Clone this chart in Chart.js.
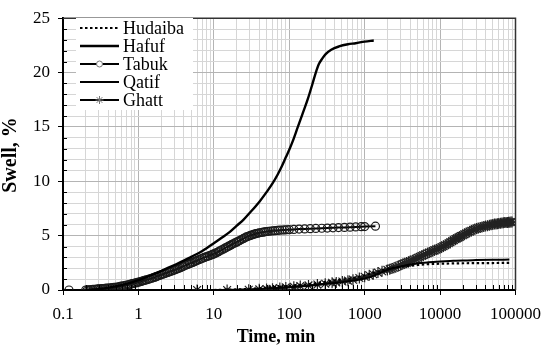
<!DOCTYPE html>
<html>
<head>
<meta charset="utf-8">
<script src="https://cdn.jsdelivr.net/npm/chart.js@4.4.1/dist/chart.umd.min.js"></script>
<style>
  html, body { margin: 0; padding: 0; background: #fff; }
  #wrap { width: 550px; height: 349px; position: relative; }
</style>
</head>
<body>
<div id="wrap"><canvas id="cnv"></canvas></div>
<script>
// ---- data (time in min, swell in %) ----
const seriesNames = ['Hudaiba', 'Hafuf', 'Tabuk', 'Qatif', 'Ghatt'];

const hudaibaTime  = [10, 20, 30, 60, 100, 200, 340, 500, 700, 1000, 1500, 2000, 3000, 5000, 7000, 10000, 20000, 50000, 83000];
const hudaibaSwell = [0, 0.05, 0.1, 0.25, 0.38, 0.58, 0.8, 0.95, 1.1, 1.35, 1.7, 1.95, 2.15, 2.3, 2.38, 2.42, 2.46, 2.48, 2.5];

const hafufTime  = [0.2, 0.25, 0.3, 0.36, 0.45, 0.6, 0.8, 1, 1.3, 1.6, 2, 2.5, 3, 4, 5, 6.5, 8, 10, 13, 16, 20, 25, 30, 40, 50, 60, 70, 80, 90, 100, 110, 130, 150, 175, 203, 225, 248, 275, 304, 360, 456, 600, 760, 1000, 1320];
const hafufSwell = [0, 0.03, 0.08, 0.15, 0.28, 0.45, 0.68, 0.9, 1.2, 1.45, 1.75, 2.05, 2.3, 2.7, 3.05, 3.45, 3.85, 4.3, 4.85, 5.3, 5.9, 6.5, 7.1, 8.1, 9.0, 9.8, 10.6, 11.4, 12.2, 12.9, 13.6, 15.0, 16.2, 17.5, 18.95, 20.0, 20.8, 21.3, 21.7, 22.1, 22.4, 22.6, 22.7, 22.85, 22.95];

const tabukTime  = [0.12, 0.2, 0.21, 0.22, 0.235, 0.25, 0.265, 0.28, 0.29, 0.3, 0.315, 0.33, 0.345, 0.36, 0.38, 0.4, 0.425, 0.45, 0.475, 0.5, 0.525, 0.55, 0.575, 0.6, 0.635, 0.67, 0.71, 0.75, 0.79, 0.83, 0.875, 0.92, 0.96, 1, 1.05, 1.1, 1.15, 1.2, 1.27, 1.35, 1.42, 1.5, 1.57, 1.65, 1.72, 1.8, 1.9, 2, 2.1, 2.2, 2.32, 2.45, 2.57, 2.7, 2.85, 3, 3.15, 3.3, 3.47, 3.65, 3.82, 4, 4.25, 4.5, 4.75, 5, 5.25, 5.5, 5.75, 6, 6.35, 6.7, 7.1, 7.5, 7.9, 8.3, 8.75, 9.2, 9.6, 10, 10.5, 11, 11.5, 12, 12.7, 13.5, 14.2, 15, 15.7, 16.5, 17.2, 18, 19, 20, 21, 22, 23.2, 24.5, 25.7, 27, 28.5, 30, 31.5, 33, 34.5, 36, 38, 40, 42.5, 45, 47.5, 50, 53, 57, 61, 65, 70, 75, 81, 87, 93, 100, 115, 135, 160, 190, 225, 270, 320, 380, 450, 540, 640, 760, 900, 1000, 1390];
const tabukSwell = [0, 0, 0.01, 0.02, 0.035, 0.05, 0.065, 0.08, 0.09, 0.1, 0.11, 0.12, 0.135, 0.15, 0.165, 0.18, 0.2, 0.22, 0.235, 0.25, 0.275, 0.3, 0.325, 0.35, 0.385, 0.42, 0.46, 0.5, 0.54, 0.58, 0.615, 0.65, 0.685, 0.72, 0.76, 0.8, 0.84, 0.88, 0.93, 0.98, 1.03, 1.08, 1.13, 1.18, 1.23, 1.28, 1.34, 1.4, 1.45, 1.5, 1.56, 1.62, 1.67, 1.72, 1.78, 1.84, 1.9, 1.95, 2.01, 2.07, 2.14, 2.2, 2.28, 2.35, 2.42, 2.48, 2.54, 2.6, 2.66, 2.72, 2.79, 2.86, 2.93, 3.0, 3.05, 3.1, 3.16, 3.22, 3.27, 3.32, 3.39, 3.45, 3.52, 3.6, 3.69, 3.78, 3.87, 3.95, 4.03, 4.1, 4.18, 4.25, 4.33, 4.4, 4.48, 4.55, 4.64, 4.72, 4.8, 4.88, 4.94, 5.0, 5.05, 5.1, 5.14, 5.18, 5.22, 5.26, 5.29, 5.32, 5.35, 5.38, 5.4, 5.42, 5.44, 5.46, 5.48, 5.5, 5.52, 5.53, 5.54, 5.55, 5.57, 5.6, 5.62, 5.64, 5.66, 5.68, 5.7, 5.72, 5.74, 5.76, 5.78, 5.8, 5.82, 5.83, 5.87];

const qatifTime  = [10, 20, 30, 60, 100, 200, 340, 500, 700, 1000, 1300, 1700, 2200, 3200, 5000, 7000, 10000, 15000, 20000, 30000, 50000, 83000];
const qatifSwell = [0, 0.03, 0.05, 0.15, 0.25, 0.42, 0.6, 0.72, 0.88, 1.05, 1.3, 1.65, 1.95, 2.2, 2.45, 2.55, 2.62, 2.68, 2.72, 2.75, 2.78, 2.8];

const ghattTime  = [6, 15, 29, 40, 50, 60, 75, 90, 115, 140, 180, 236, 300, 370, 420, 506, 600, 700, 850, 1000, 1150, 1300, 1500, 1700, 2000, 2150, 2300, 2450, 2600, 2800, 3000, 3200, 3400, 3600, 3800, 4000, 4270, 4500, 4800, 5100, 5400, 5700, 6000, 6400, 6800, 7200, 7600, 8000, 8400, 8900, 9400, 9950, 10500, 11100, 11700, 12300, 13000, 13700, 14500, 15200, 16000, 16700, 17500, 18200, 19000, 20000, 21000, 22200, 23500, 24700, 26000, 27500, 29000, 30500, 32000, 34000, 36000, 38000, 40000, 42500, 45000, 47500, 50000, 52500, 55000, 57500, 60000, 63000, 66000, 69000, 72000, 75000, 78000, 81000, 84000, 87000, 90000];
const ghattSwell = [0, 0, 0.02, 0.06, 0.09, 0.12, 0.18, 0.24, 0.3, 0.36, 0.42, 0.5, 0.58, 0.66, 0.7, 0.78, 0.86, 0.95, 1.1, 1.22, 1.35, 1.45, 1.6, 1.72, 1.85, 1.92, 1.98, 2.05, 2.12, 2.21, 2.3, 2.38, 2.45, 2.52, 2.58, 2.64, 2.72, 2.8, 2.88, 2.97, 3.05, 3.13, 3.2, 3.29, 3.38, 3.45, 3.52, 3.59, 3.65, 3.72, 3.78, 3.86, 3.95, 4.03, 4.12, 4.2, 4.3, 4.4, 4.5, 4.59, 4.68, 4.75, 4.82, 4.89, 4.96, 5.04, 5.12, 5.21, 5.3, 5.38, 5.45, 5.53, 5.6, 5.65, 5.7, 5.75, 5.8, 5.84, 5.88, 5.92, 5.96, 6.0, 6.03, 6.06, 6.08, 6.1, 6.12, 6.14, 6.16, 6.18, 6.2, 6.21, 6.22, 6.23, 6.24, 6.25, 6.26];

// ---- axes ----
const xDecades    = [0.1, 1, 10, 100, 1000, 10000, 100000];
const xTickLabels = ['0.1', '1', '10', '100', '1000', '10000', '100000'];
const xMinorMult  = [2, 3, 4, 5, 6, 7, 8, 9];
const yMajorStep  = 5;

const FONT = '"Liberation Serif", "Times New Roman", serif';

const pts = (t, v) => t.map((x, i) => ({ x, y: v[i] }));

const datasets = [
  { label: seriesNames[0], data: pts(hudaibaTime, hudaibaSwell), borderColor: '#000', borderWidth: 2.2, borderDash: [2.5, 2.5], pointRadius: 0 },
  { label: seriesNames[1], data: pts(hafufTime, hafufSwell), borderColor: '#000', borderWidth: 2.4, pointRadius: 0, cubicInterpolationMode: 'monotone' },
  { label: seriesNames[2], data: pts(tabukTime, tabukSwell), borderColor: '#000', borderWidth: 2, pointStyle: 'circle', pointRadius: 4, pointBorderWidth: 1.2, pointBorderColor: '#1a1a1a', pointBackgroundColor: 'rgba(0,0,0,0)' },
  { label: seriesNames[3], data: pts(qatifTime, qatifSwell), borderColor: '#000', borderWidth: 2, pointRadius: 0, cubicInterpolationMode: 'monotone' },
  { label: seriesNames[4], data: pts(ghattTime, ghattSwell), borderColor: '#000', borderWidth: 2, pointStyle: 'star', pointRadius: 5.5, pointBorderWidth: 1.2, pointBorderColor: '#222', pointBackgroundColor: 'rgba(0,0,0,0)' }
];

// ---- extras: inner minor ticks, frame, axis titles, legend ----
const extras = {
  id: 'extras',
  afterDraw(chart) {
    const { ctx, chartArea: a, scales: { x, y } } = chart;
    ctx.save();
    // inner minor ticks
    ctx.strokeStyle = '#000';
    ctx.lineWidth = 1;
    ctx.beginPath();
    x.ticks.forEach(t => {
      if (xDecades.includes(t.value)) return;
      const px = Math.round(x.getPixelForValue(t.value)) + 0.5;
      ctx.moveTo(px, a.bottom); ctx.lineTo(px, a.bottom - 5);
    });
    y.ticks.forEach(t => {
      if (t.value % yMajorStep === 0) return;
      const py = Math.round(y.getPixelForValue(t.value)) + 0.5;
      ctx.moveTo(a.left, py); ctx.lineTo(a.left + 4, py);
    });
    ctx.stroke();
    // top/right frame
    ctx.strokeStyle = '#333';
    ctx.lineWidth = 1.5;
    ctx.beginPath();
    ctx.moveTo(a.left, a.top); ctx.lineTo(a.right, a.top); ctx.lineTo(a.right, a.bottom);
    ctx.stroke();

    // axis titles
    ctx.fillStyle = '#000';
    ctx.font = 'bold 18px ' + FONT;
    ctx.textAlign = 'center';
    ctx.textBaseline = 'middle';
    ctx.fillText('Time, min', 276, 337);
    ctx.save();
    ctx.translate(11, 155);
    ctx.rotate(-Math.PI / 2);
    ctx.font = 'bold 20px ' + FONT;
    ctx.fillText('Swell, %', 0, 0);
    ctx.restore();

    // legend box
    const lx = 76, ly = 18, lw = 117, lh = 92;
    ctx.fillStyle = '#fff';
    ctx.fillRect(lx, ly, lw, lh);
    ctx.font = '18px ' + FONT;
    ctx.textAlign = 'left';
    ctx.textBaseline = 'middle';
    chart.data.datasets.forEach((ds, i) => {
      const ry = 28 + i * 18;
      ctx.strokeStyle = ds.borderColor;
      ctx.lineWidth = ds.borderWidth;
      ctx.setLineDash(ds.borderDash || []);
      ctx.beginPath();
      ctx.moveTo(80, ry); ctx.lineTo(119, ry);
      ctx.stroke();
      ctx.setLineDash([]);
      if (ds.pointRadius > 0) {
        ctx.strokeStyle = '#777';
        ctx.fillStyle = '#fff';
        ctx.lineWidth = 1;
        Chart.helpers.drawPoint(ctx, {
          pointStyle: ds.pointStyle, radius: ds.pointStyle === 'star' ? 4 : 3, borderWidth: 1
        }, 99.5, ry);
      }
      ctx.fillStyle = '#000';
      ctx.fillText(ds.label, 123, ry + 1);
    });
    ctx.restore();
  }
};

new Chart('cnv', {
  type: 'scatter',
  data: { datasets },
  options: {
    responsive: true,
    maintainAspectRatio: false,
    animation: false,
    showLine: true,
    layout: { padding: { left: 0, right: 33, top: 13, bottom: 0 } },
    elements: { line: { tension: 0 } },
    plugins: { legend: { display: false }, tooltip: { enabled: false } },
    scales: {
      x: {
        type: 'logarithmic',
        min: 0.1, max: 100000,
        afterBuildTicks: s => {
          const list = [];
          xDecades.forEach((d, i) => {
            list.push({ value: d, major: true });
            if (i < xDecades.length - 1) xMinorMult.forEach(m => list.push({ value: d * m, major: false }));
          });
          s.ticks = list;
        },
        afterFit: s => { s.height = 59; },
        ticks: {
          autoSkip: false, maxRotation: 0, minRotation: 0, padding: 9,
          color: '#000', font: { family: FONT, size: 17 },
          callback: v => { const i = xDecades.indexOf(v); return i >= 0 ? xTickLabels[i] : ''; }
        },
        grid: {
          color: c => xDecades.includes(c.tick.value) ? '#b4b4b4' : '#d6d6d6',
          lineWidth: 1,
          tickLength: 5,
          tickColor: c => xDecades.includes(c.tick.value) ? '#000' : 'rgba(0,0,0,0)'
        },
        border: { display: true, color: '#000', width: 2 }
      },
      y: {
        min: 0, max: 25,
        afterFit: s => { s.width = 63; },
        ticks: {
          stepSize: 1, autoSkip: false, padding: 8,
          color: '#000', font: { family: FONT, size: 17 },
          callback: v => v % yMajorStep === 0 ? String(v) : ''
        },
        grid: {
          color: c => c.tick.value % yMajorStep === 0 ? '#b4b4b4' : '#d6d6d6',
          lineWidth: 1,
          tickLength: 5,
          tickColor: c => c.tick.value % yMajorStep === 0 ? '#000' : 'rgba(0,0,0,0)'
        },
        border: { display: true, color: '#000', width: 2 }
      }
    }
  },
  plugins: [extras]
});
</script>
</body>
</html>
